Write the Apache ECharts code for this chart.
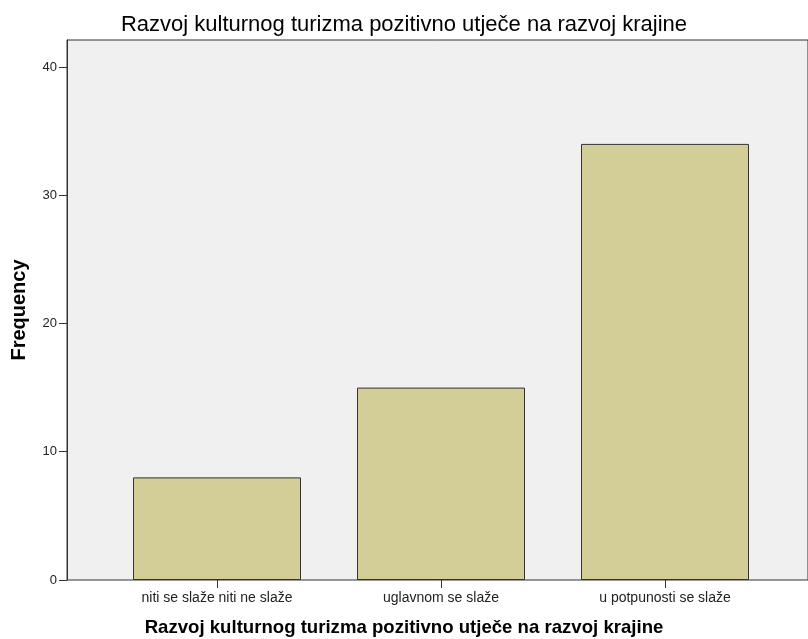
<!DOCTYPE html>
<html>
<head>
<meta charset="utf-8">
<script src="https://cdn.jsdelivr.net/npm/echarts@6/dist/echarts.min.js"></script>
<style>html,body{margin:0;padding:0;background:#fff}#c{width:808px;height:639px}</style>
</head>
<body>
<div id="c"></div>
<script>
const categories = ['niti se slaže niti ne slaže', 'uglavnom se slaže', 'u potpunosti se slaže'];
const frequencies = [8, 15, 34];
const yTicks = [0, 10, 20, 30, 40];
const titleText = 'Razvoj kulturnog turizma pozitivno utječe na razvoj krajine';
const xAxisTitle = 'Razvoj kulturnog turizma pozitivno utječe na razvoj krajine';
const yAxisTitle = 'Frequency';

const FONT = '"Liberation Sans", Arial, sans-serif';
const YMAX = 42.1;
const chart = echarts.init(document.getElementById('c'));
chart.setOption({
  animation: false,
  title: [
    {text: titleText, left: 'center', top: 9,
     textStyle: {fontFamily: FONT, fontSize: 22, fontWeight: 'normal', color: '#000'}},
    {text: xAxisTitle, left: 'center', top: 613,
     textStyle: {fontFamily: FONT, fontSize: 18.6, fontWeight: 'bold', color: '#000'}}
  ],
  grid: [
    {left: 67, right: -10, top: 40, bottom: 59, show: true, backgroundColor: '#f0f0f0', borderColor: '#333', borderWidth: 1},
    {left: 105, right: 31, top: 40, bottom: 59}
  ],
  xAxis: [
    {gridIndex: 0, type: 'value', min: 0, max: 1, show: false},
    {gridIndex: 1, type: 'category', data: categories,
     axisLine: {show: false},
     axisTick: {show: true, alignWithLabel: true, length: 8, lineStyle: {color: '#333'}},
     axisLabel: {fontFamily: FONT, fontSize: 14, color: '#222', margin: 11}}
  ],
  yAxis: [
    {gridIndex: 0, type: 'value', min: 0, max: YMAX,
     name: yAxisTitle, nameLocation: 'middle', nameGap: 38, nameRotate: 90,
     nameTextStyle: {fontFamily: FONT, fontSize: 20, fontWeight: 'bold', color: '#000'},
     splitLine: {show: false},
     axisLine: {show: true, lineStyle: {color: '#333'}},
     axisTick: {show: true, length: 8, customValues: yTicks, lineStyle: {color: '#333'}},
     axisLabel: {fontFamily: FONT, fontSize: 13, color: '#222', margin: 10, customValues: yTicks}},
    {gridIndex: 1, type: 'value', min: 0, max: YMAX, show: false, splitLine: {show: false}}
  ],
  series: [{
    type: 'bar', xAxisIndex: 1, yAxisIndex: 1,
    data: frequencies, barWidth: 168,
    itemStyle: {color: '#d3ce97', borderColor: '#333', borderWidth: 1}
  }]
});
</script>
</body>
</html>
